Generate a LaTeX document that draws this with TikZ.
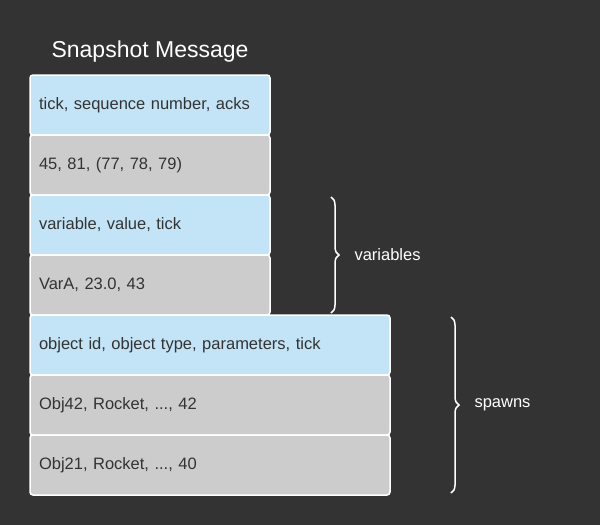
\documentclass[tikz,border=0pt]{standalone}
\usepackage{fontspec}
\setmainfont{Liberation Sans}
\usetikzlibrary{positioning,calc,decorations.pathreplacing}
\definecolor{bg-dark}{HTML}{333333}
\definecolor{field-blue}{HTML}{C2E4F6}
\definecolor{value-grey}{HTML}{CCCCCC}
\tikzset{
    row-box/.style = {draw=white, line width=1.5pt, outer sep=0pt, rounded corners=3pt, text=bg-dark, minimum height=60pt, inner xsep=9pt, align=left, font=\fontsize{16.5}{20}\selectfont},
    field-box/.style = {row-box, fill=field-blue},
    value-box/.style = {row-box, fill=value-grey},
    narrow/.style = {text width=222pt},
    wide/.style = {text width=342pt},
    group-brace/.style = {draw=white, line width=1.5pt, decorate, decoration={brace, amplitude=8pt}},
    group-label/.style = {text=white, anchor=west, font=\fontsize{16.5}{20}\selectfont},
}

\begin{document}
\begin{tikzpicture}[x=1pt, y=1pt, node distance=0pt]
\fill[bg-dark] (0,0) rectangle (600,-525);

\node[text=white, font=\fontsize{23}{27}\selectfont] (title) at (150,-52) {Snapshot Message};

% header part
\node[field-box, narrow, anchor=north west] (hdr) at (30,-75) {tick, sequence number, acks};
\node[value-box, narrow, below=of hdr] (hdr-val) {45, 81, (77, 78, 79)};

% variables
\node[field-box, narrow, below=of hdr-val] (var-hdr) {variable, value, tick};
\node[value-box, narrow, below=of var-hdr] (var-val) {VarA, 23.0, 43};

% spawns
\node[field-box, wide, anchor=north west] (spawn-hdr) at (var-val.south west) {object id, object type, parameters, tick};
\node[value-box, wide, below=of spawn-hdr] (spawn-a) {Obj42, Rocket, ..., 42};
\node[value-box, wide, below=of spawn-a] (spawn-b) {Obj21, Rocket, ..., 40};

\coordinate (var-top) at ([xshift=61pt, yshift=-2pt]var-hdr.north east);
\coordinate (var-bot) at ([xshift=61pt, yshift=2pt]var-val.south east);
\draw[group-brace] (var-top) -- (var-bot);
\node[group-label] (var-label) at ([xshift=20pt]$(var-top)!0.5!(var-bot)$) {variables};

\coordinate (spawn-top) at ([xshift=61pt, yshift=-2pt]spawn-hdr.north east);
\coordinate (spawn-bot) at ([xshift=61pt, yshift=2pt]spawn-b.south east);
\draw[group-brace] (spawn-top) -- (spawn-bot);
\node[group-label] (spawn-label) at ([xshift=20pt]$(spawn-top)!0.5!(spawn-bot)$) {spawns};
\end{tikzpicture}
\end{document}
